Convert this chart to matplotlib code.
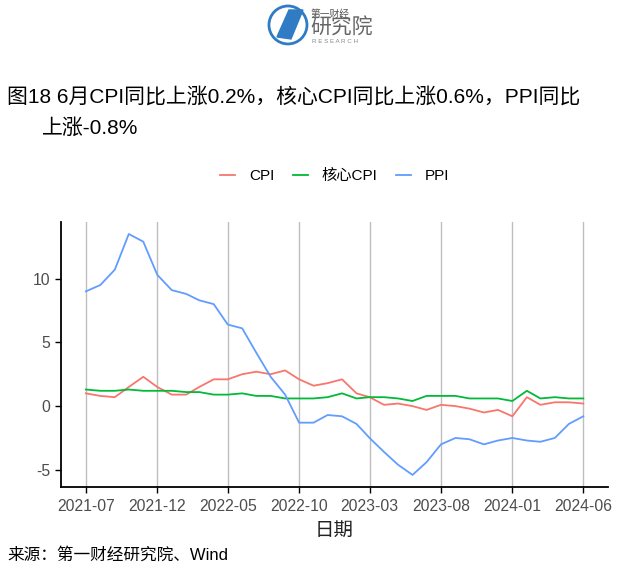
import numpy as np
import pandas as pd
import matplotlib
matplotlib.use('Agg')
import matplotlib.pyplot as plt
import matplotlib.dates as mdates
from matplotlib.patches import Circle, Polygon

plt.rcParams['font.family'] = ['Liberation Sans', 'Noto Sans CJK SC', 'DejaVu Sans']
plt.rcParams['axes.unicode_minus'] = False

months = pd.date_range('2021-07-01', '2024-06-01', freq='MS')
cpi = [1.0, 0.8, 0.7, 1.5, 2.3, 1.5,
       0.9, 0.9, 1.5, 2.1, 2.1, 2.5, 2.7, 2.5, 2.8, 2.1, 1.6, 1.8,
       2.1, 1.0, 0.7, 0.1, 0.2, 0.0, -0.3, 0.1, 0.0, -0.2, -0.5, -0.3,
       -0.8, 0.7, 0.1, 0.3, 0.3, 0.2]
core_cpi = [1.3, 1.2, 1.2, 1.3, 1.2, 1.2,
            1.2, 1.1, 1.1, 0.9, 0.9, 1.0, 0.8, 0.8, 0.6, 0.6, 0.6, 0.7,
            1.0, 0.6, 0.7, 0.7, 0.6, 0.4, 0.8, 0.8, 0.8, 0.6, 0.6, 0.6,
            0.4, 1.2, 0.6, 0.7, 0.6, 0.6]
ppi = [9.0, 9.5, 10.7, 13.5, 12.9, 10.3,
       9.1, 8.8, 8.3, 8.0, 6.4, 6.1, 4.2, 2.3, 0.9, -1.3, -1.3, -0.7,
       -0.8, -1.4, -2.5, -3.6, -4.6, -5.4, -4.4, -3.0, -2.5, -2.6, -3.0, -2.7,
       -2.5, -2.7, -2.8, -2.5, -1.4, -0.8]
series = [('CPI', cpi, '#F8766D'), ('核心CPI', core_cpi, '#00BA38'), ('PPI', ppi, '#619CFF')]
tick_months = months[::5]

fig = plt.figure(figsize=(6.4, 5.74), dpi=100)
ax = fig.add_axes([0.0953, 0.1516, 0.855, 0.4617])

for name, vals, color in series:
    ax.plot(months, vals, color=color, lw=1.3, label=name)

span = months[-1] - months[0]
ax.set_xlim(months[0] - span * 0.05, months[-1] + span * 0.05)
allv = np.concatenate([cpi, core_cpi, ppi])
yr = allv.max() - allv.min()
ax.set_ylim(allv.min() - yr * 0.05, allv.max() + yr * 0.05)

ax.set_xticks(tick_months)
ax.xaxis.set_major_formatter(mdates.DateFormatter('%Y-%m'))
ax.set_yticks([-5, 0, 5, 10])
ax.grid(axis='x', color='#BEBEBE', lw=1)
ax.set_axisbelow(True)
for s in ['top', 'right']:
    ax.spines[s].set_visible(False)
for s in ['left', 'bottom']:
    ax.spines[s].set_linewidth(1.3)
ax.tick_params(labelsize=11.3, labelcolor='#4D4D4D', length=4, width=1)
ax.tick_params(axis='x', pad=5)
ax.set_xlabel('日期', fontsize=14, color='#222222', labelpad=6)

ax.legend(loc='lower center', bbox_to_anchor=(0.5, 1.095), ncol=3, frameon=False,
          fontsize=11, handlelength=1.0, columnspacing=1.2, handletextpad=0.9)

fig.text(0.011, 0.831, '图18 6月CPI同比上涨0.2%，核心CPI同比上涨0.6%，PPI同比',
         fontsize=15, va='center', ha='left')
fig.text(0.066, 0.777, '上涨-0.8%', fontsize=15, va='center', ha='left')
fig.text(0.011, 0.033, '来源：第一财经研究院、Wind', fontsize=12, va='center', ha='left')

# logo
lax = fig.add_axes([0.414, 0.913, 0.211, 0.087])
lax.set_xlim(0, 135)
lax.set_ylim(0, 50)
lax.axis('off')
lax.add_patch(Circle((23, 25), 19, fill=False, ec='#2F7CC4', lw=2))
lax.add_patch(Polygon([[12, 13], [24, 40], [38, 40], [26, 11]], color='#2F7CC4'))
lax.text(46, 36, '第一财经', fontsize=7, color='#555555', va='center')
lax.text(45, 22, '研究院', fontsize=15, color='#666666', va='center')
lax.text(47, 8, 'R E S E A R C H', fontsize=4.5, color='#888888', va='center')

fig.savefig('out.png', dpi=100)
